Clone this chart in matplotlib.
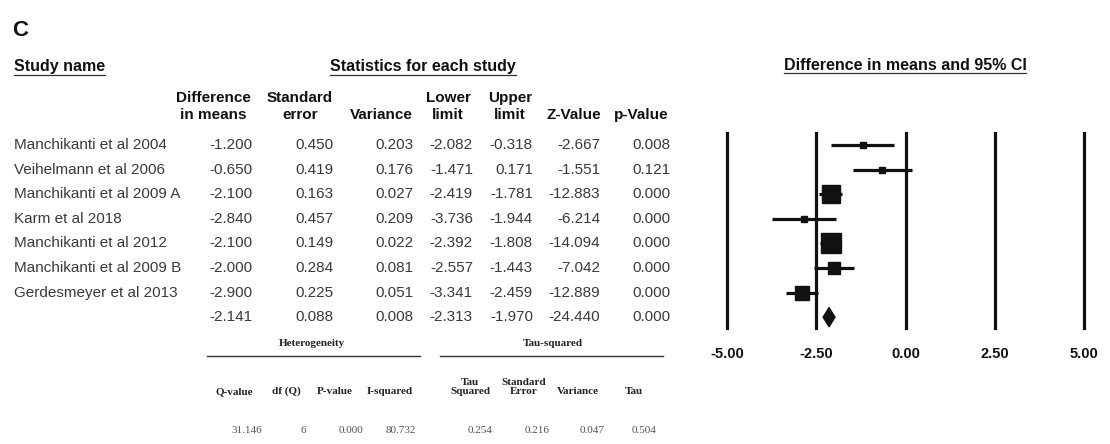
import matplotlib
matplotlib.use("Agg")
import matplotlib.pyplot as plt
from matplotlib import transforms
from matplotlib.patches import Polygon
from matplotlib.lines import Line2D

# ---- data ----
studies = [
    "Manchikanti et al 2004",
    "Veihelmann et al 2006",
    "Manchikanti et al 2009 A",
    "Karm et al 2018",
    "Manchikanti et al 2012",
    "Manchikanti et al 2009 B",
    "Gerdesmeyer et al 2013",
]
diff_means = [-1.200, -0.650, -2.100, -2.840, -2.100, -2.000, -2.900]
std_error = [0.450, 0.419, 0.163, 0.457, 0.149, 0.284, 0.225]
variance = [0.203, 0.176, 0.027, 0.209, 0.022, 0.081, 0.051]
lower_limit = [-2.082, -1.471, -2.419, -3.736, -2.392, -2.557, -3.341]
upper_limit = [-0.318, 0.171, -1.781, -1.944, -1.808, -1.443, -2.459]
z_value = [-2.667, -1.551, -12.883, -6.214, -14.094, -7.042, -12.889]
p_value = [0.008, 0.121, 0.000, 0.000, 0.000, 0.000, 0.000]

pooled = dict(diff=-2.141, se=0.088, var=0.008, lower=-2.313, upper=-1.970,
              z=-24.440, p=0.000)

heterogeneity = dict(q_value=31.146, df_q=6, p_value=0.000, i_squared=80.732)
tau_squared = dict(tau2=0.254, se=0.216, var=0.047, tau=0.504)

x_ticks = [-5.0, -2.5, 0.0, 2.5, 5.0]

# marker side lengths (points) reflecting relative study weight
marker_side = [5.0, 5.0, 13.0, 5.0, 14.0, 8.5, 10.5]

# ---- figure ----
W, H = 1110, 444
fig = plt.figure(figsize=(W / 100, H / 100), dpi=100)
fig.patch.set_facecolor("white")

SANS = "Liberation Sans"
SERIF = "Liberation Serif"
BODY = "#3a3a3a"
INK = "#111111"


def fx(px):
    return px / W


def fy(py):
    return 1 - py / H


# forest plot axes
ax_left, ax_right = 727, 1084
ax_top, ax_bot = 133, 328
ax = fig.add_axes([fx(ax_left), fy(ax_bot), (ax_right - ax_left) / W,
                   (ax_bot - ax_top) / H])
ax.set_xlim(-5, 5)
row_px = 24.6
first_row_px = 145
ax.set_ylim((ax_bot - first_row_px) / row_px, (ax_top - first_row_px) / row_px)
for s in ax.spines.values():
    s.set_visible(False)
ax.set_yticks([])
ax.set_xticks(x_ticks)
ax.set_xticklabels([f"{t:.2f}" for t in x_ticks], fontfamily=SANS,
                   fontweight="bold", fontsize=10.5, color=INK)
ax.tick_params(axis="x", length=0, pad=14)
ax.patch.set_alpha(0)

for t in x_ticks:
    ax.axvline(t, color=INK, lw=2.3, zorder=1, clip_on=False)

for i, (d, lo, hi, ms) in enumerate(zip(diff_means, lower_limit, upper_limit,
                                        marker_side)):
    ax.plot([lo, hi], [i, i], color=INK, lw=2.3, solid_capstyle="butt",
            zorder=2, clip_on=False)
    ax.plot([d], [i], marker="s", ms=ms, color=INK, mec=INK, zorder=3,
            clip_on=False)

k = len(studies)
dh = 0.4
diamond = Polygon([[pooled["lower"], k], [pooled["diff"], k - dh],
                   [pooled["upper"], k], [pooled["diff"], k + dh]],
                  closed=True, facecolor=INK, edgecolor=INK, lw=0.8, zorder=3,
                  clip_on=False)
ax.add_patch(diamond)

# table text: x in figure pixels, y on the forest plot's row scale
row_tf = transforms.blended_transform_factory(fig.transFigure, ax.transData)

col_right = [253, 333, 413, 473, 533, 600, 670]
for i, name in enumerate(studies):
    fig.text(fx(14), i, name, transform=row_tf, ha="left", va="center",
             fontfamily=SANS, fontsize=11, color=BODY)
    vals = [diff_means[i], std_error[i], variance[i], lower_limit[i],
            upper_limit[i], z_value[i], p_value[i]]
    for xr, v in zip(col_right, vals):
        fig.text(fx(xr), i, f"{v:.3f}", transform=row_tf, ha="right",
                 va="center", fontfamily=SANS, fontsize=11, color=BODY)

pooled_vals = [pooled["diff"], pooled["se"], pooled["var"], pooled["lower"],
               pooled["upper"], pooled["z"], pooled["p"]]
for xr, v in zip(col_right, pooled_vals):
    fig.text(fx(xr), k, f"{v:.3f}", transform=row_tf, ha="right", va="center",
             fontfamily=SANS, fontsize=11, color=BODY)

# panel letter
fig.text(fx(12), fy(30), "C", ha="left", va="center", fontfamily=SANS,
         fontweight="bold", fontsize=16, color=INK)

renderer = fig.canvas.get_renderer()


def underlined(x, y, s, ha):
    t = fig.text(fx(x), fy(y), s, ha=ha, va="center", fontfamily=SANS,
                 fontweight="bold", fontsize=11.5, color=INK)
    bb = t.get_window_extent(renderer=renderer)
    ly = fy(y + 8)
    fig.add_artist(Line2D([bb.x0 / W, bb.x1 / W], [ly, ly], color="#333333",
                          lw=0.9, transform=fig.transFigure))


underlined(14, 67, "Study name", "left")
underlined(423, 67, "Statistics for each study", "center")
underlined(905, 65, "Difference in means and 95% CI", "center")

# column headers
headers = [
    (213, ["Difference", "in means"]),
    (300, ["Standard", "error"]),
    (381, ["", "Variance"]),
    (448, ["Lower", "limit"]),
    (510, ["Upper", "limit"]),
    (574, ["", "Z-Value"]),
    (641, ["", "p-Value"]),
]
for xc, (l1, l2) in headers:
    if l1:
        fig.text(fx(xc), fy(98), l1, ha="center", va="center", fontfamily=SANS,
                 fontweight="bold", fontsize=11, color=INK)
    fig.text(fx(xc), fy(115), l2, ha="center", va="center", fontfamily=SANS,
             fontweight="bold", fontsize=11, color=INK)

# heterogeneity / tau-squared block
small = dict(fontfamily=SERIF, fontweight="bold", fontsize=8, color="#222222")
fig.text(fx(312), fy(343), "Heterogeneity", ha="center", va="center", **small)
fig.text(fx(553), fy(343), "Tau-squared", ha="center", va="center", **small)
for x0, x1 in [(207, 420), (440, 663)]:
    fig.add_artist(Line2D([fx(x0), fx(x1)], [fy(356), fy(356)], color="#333333",
                          lw=1.0, transform=fig.transFigure))

sub_heads = [
    (234, "Q-value"), (286, "df (Q)"), (335, "P-value"), (390, "I-squared"),
    (470, "Tau\nSquared"), (524, "Standard\nError"), (578, "Variance"),
    (634, "Tau"),
]
for xc, s in sub_heads:
    fig.text(fx(xc), fy(396), s, ha="center", va="bottom", linespacing=1.0,
             **small)

het_vals = [
    (247, f"{heterogeneity['q_value']:.3f}"),
    (303, f"{heterogeneity['df_q']:d}"),
    (351, f"{heterogeneity['p_value']:.3f}"),
    (401, f"{heterogeneity['i_squared']:.3f}"),
    (480, f"{tau_squared['tau2']:.3f}"),
    (537, f"{tau_squared['se']:.3f}"),
    (592, f"{tau_squared['var']:.3f}"),
    (644, f"{tau_squared['tau']:.3f}"),
]
for xc, s in het_vals:
    fig.text(fx(xc), fy(430), s, ha="center", va="center", fontfamily=SERIF,
             fontsize=8, color="#555555")

fig.savefig("out.png", dpi=100, facecolor="white")
